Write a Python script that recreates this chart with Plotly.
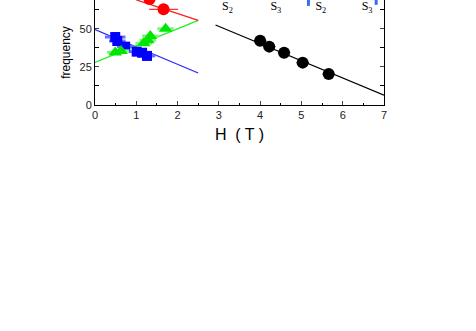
#######################################################################################################################
# Frequency vs. field plot
#######################################################################################################################
import plotly.graph_objects as go

#######################################################################################################################
# Data
#######################################################################################################################
# blue squares (low field branch, decreasing)
blue_H = [0.49, 0.54, 0.73, 1.01, 1.14, 1.26]
blue_f = [44.6, 42.0, 38.3, 35.0, 34.3, 32.2]
blue_err = [0.25, 0.2, 0.2, 0.2, 0.2, 0.2]

# green triangles (low field branch, increasing)
green_H = [0.49, 0.63, 1.18, 1.28, 1.34, 1.71]
green_f = [34.5, 35.5, 40.5, 42.5, 45.3, 50.0]
green_err = [0.2, 0.2, 0.2, 0.2, 0.2, 0.2]

# red circles
red_H = [1.32, 1.66]
red_f = [69.5, 62.8]
red_err = [0.2, 0.35]

# black circles (high field branch)
black_H = [4.0, 4.22, 4.58, 5.03, 5.66]
black_f = [42.2, 38.3, 34.3, 27.8, 20.3]
black_err = [0.15, 0.15, 0.15, 0.15, 0.15]

# fit lines
blue_fit_H = [0, 2.5]
blue_fit_f = [49.5, 21.0]
green_fit_H = [0, 2.5]
green_fit_f = [28.0, 55.5]
red_fit_H = [1.0, 2.5]
red_fit_f = [69.0, 55.5]
black_fit_H = [2.92, 7.0]
black_fit_f = [52.5, 6.5]

# phase labels
lab_H = [3.21, 4.38, 5.47, 6.59]
lab_f = [64.3, 64.3, 64.3, 64.3]
lab_txt = ["S<sub>2</sub>", "S<sub>3</sub>", "S<sub>2</sub>", "S<sub>3</sub>"]

# blue marks at the top
mark_H = [5.17, 5.17, None, 6.81, 6.81]
mark_f = [65.0, 72.0, None, 65.7, 72.0]

#######################################################################################################################
# Plotting
#######################################################################################################################
fig = go.Figure()

# ------------------------------------------
# Fit lines
# ------------------------------------------
fig.add_trace(go.Scatter(x=blue_fit_H, y=blue_fit_f, mode='lines', line=dict(color='#2a2aff', width=1.2)))
fig.add_trace(go.Scatter(x=green_fit_H, y=green_fit_f, mode='lines', line=dict(color='#22ee22', width=1.2)))
fig.add_trace(go.Scatter(x=red_fit_H, y=red_fit_f, mode='lines', line=dict(color='#ff1a1a', width=1.2)))
fig.add_trace(go.Scatter(x=black_fit_H, y=black_fit_f, mode='lines', line=dict(color='black', width=1.2)))

# ------------------------------------------
# Data points
# ------------------------------------------
fig.add_trace(go.Scatter(x=blue_H, y=blue_f, mode='markers',
                         marker=dict(symbol='square', size=10, color='#0000ff'),
                         error_x=dict(type='data', array=blue_err, color='#6f6fff', thickness=3, width=0)))
fig.add_trace(go.Scatter(x=green_H, y=green_f, mode='markers',
                         marker=dict(symbol='triangle-up', size=12, color='#00e600'),
                         error_x=dict(type='data', array=green_err, color='#7cf77c', thickness=3, width=0)))
fig.add_trace(go.Scatter(x=red_H, y=red_f, mode='markers',
                         marker=dict(symbol='circle', size=12, color='#ff0000'),
                         error_x=dict(type='data', array=red_err, color='#ff0000', thickness=1, width=0)))
fig.add_trace(go.Scatter(x=black_H, y=black_f, mode='markers',
                         marker=dict(symbol='circle', size=12, color='black'),
                         error_x=dict(type='data', array=black_err, color='black', thickness=1, width=0)))

# ------------------------------------------
# Labels and top marks
# ------------------------------------------
fig.add_trace(go.Scatter(x=lab_H, y=lab_f, mode='text', text=lab_txt,
                         textfont=dict(family='Liberation Serif', size=12, color='black')))
fig.add_trace(go.Scatter(x=mark_H, y=mark_f, mode='lines', line=dict(color='#3a6bff', width=3)))

#######################################################################################################################
# Axis
#######################################################################################################################
fig.update_xaxes(range=[0, 7], tickmode='linear', tick0=0, dtick=1, ticks='inside', ticklen=4,
                 showline=True, linecolor='black', linewidth=1, mirror=False, showgrid=False, zeroline=False,
                 minor=dict(dtick=0.5, ticks='inside', ticklen=2, tickcolor='black'),
                 tickfont=dict(family='Liberation Sans', size=11, color='#222'),
                 title=dict(text="H  ( T )", font=dict(family='Liberation Sans', size=16, color='black'), standoff=8))
fig.update_yaxes(range=[0, 68.9], tickmode='array', tickvals=[0, 25, 50], ticks='inside', ticklen=4,
                 showline=True, linecolor='black', linewidth=1, mirror='ticks', showgrid=False, zeroline=False,
                 minor=dict(tickvals=[12.5, 37.5, 62.5], ticks='inside', ticklen=4, tickcolor='black'),
                 tickfont=dict(family='Liberation Sans', size=11, color='#222'),
                 title=dict(text="frequency", font=dict(family='Liberation Sans', size=12, color='black'), standoff=6))

#######################################################################################################################
# Layout
#######################################################################################################################
fig.update_layout(width=476, height=331, showlegend=False,
                  margin=dict(l=95, r=92, t=0, b=226),
                  plot_bgcolor='white', paper_bgcolor='white')

fig.write_html("out.html", config={'displayModeBar': False},
               post_script="document.body.style.margin='0px';")
